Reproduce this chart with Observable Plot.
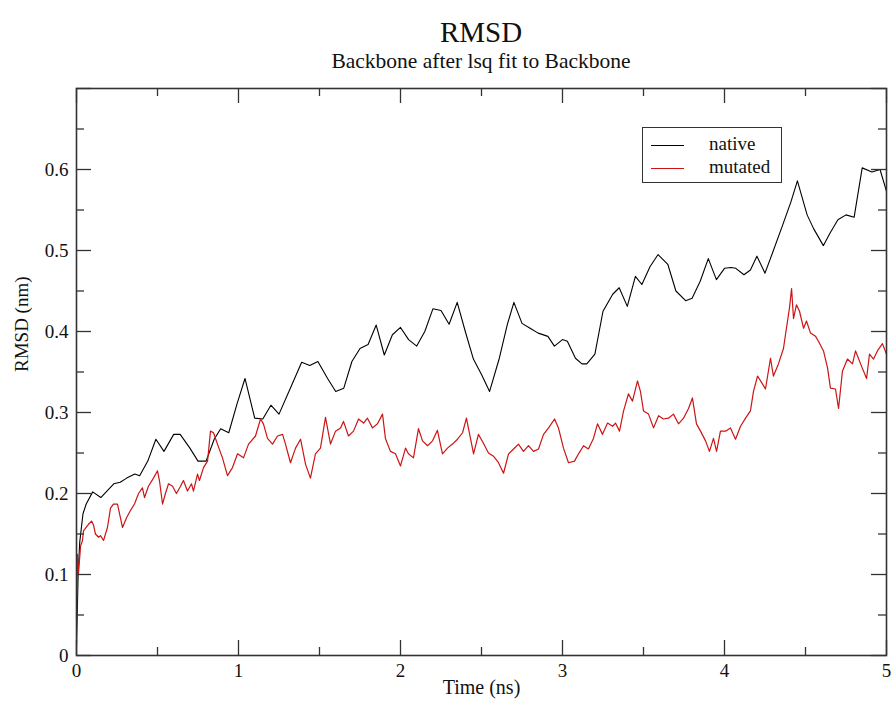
<!DOCTYPE html>
<html><head><meta charset="utf-8">
<script src="https://cdn.jsdelivr.net/npm/d3@7"></script>
<script src="https://cdn.jsdelivr.net/npm/@observablehq/plot@0.6"></script>
<style>
body{margin:0;background:#fff;font-family:"Liberation Serif",serif;color:#111;}
#wrap{position:relative;width:896px;height:709px;overflow:hidden;}
#head{position:relative;height:70px;}
#title{position:absolute;left:0;width:962px;top:21px;text-align:center;font-size:29px;line-height:22px;height:22px;}
#subtitle{position:absolute;left:0;width:962px;top:53px;text-align:center;font-size:21.5px;line-height:17px;height:17px;}
#legend{position:absolute;left:642px;top:127px;width:138px;height:54px;border:1.5px solid #333;background:#fff;font-size:19px;}
.li{position:absolute;left:8px;height:20px;}
.sw{position:absolute;left:0;top:10px;width:33px;height:0;border-top:1px solid;}
.lt{position:absolute;left:58px;top:-2px;line-height:22px;}
</style></head>
<body>
<div id="wrap">
  <div id="head"><div id="title">RMSD</div><div id="subtitle">Backbone after lsq fit to Backbone</div></div>
  <div id="chart"></div>
  <div id="legend">
    <div class="li" style="top:7px"><div class="sw" style="border-color:#000"></div><div class="lt">native</div></div>
    <div class="li" style="top:30px"><div class="sw" style="border-color:#cc1414"></div><div class="lt">mutated</div></div>
  </div>
</div>
<script>
// ---- data ----
const nativeTime = [0,0.01,0.02,0.04,0.06,0.10,0.15,0.23,0.27,0.31,0.36,0.39,0.44,0.49,0.54,0.60,0.64,0.70,0.75,0.80,0.85,0.89,0.94,0.99,1.04,1.10,1.15,1.20,1.25,1.32,1.39,1.44,1.49,1.55,1.60,1.65,1.70,1.75,1.80,1.85,1.90,1.95,2.00,2.05,2.10,2.15,2.20,2.25,2.30,2.35,2.40,2.45,2.50,2.55,2.61,2.66,2.70,2.75,2.80,2.85,2.91,2.95,3.00,3.03,3.08,3.12,3.15,3.20,3.25,3.31,3.35,3.40,3.45,3.49,3.54,3.59,3.65,3.70,3.76,3.80,3.85,3.90,3.95,4.00,4.04,4.07,4.12,4.16,4.20,4.25,4.30,4.36,4.41,4.45,4.51,4.55,4.61,4.65,4.70,4.75,4.80,4.85,4.91,4.96,5.00];
const nativeRmsd = [0.01,0.10,0.14,0.175,0.187,0.202,0.195,0.212,0.214,0.219,0.224,0.222,0.24,0.267,0.252,0.273,0.273,0.256,0.24,0.24,0.267,0.28,0.275,0.31,0.342,0.293,0.292,0.309,0.298,0.33,0.362,0.358,0.363,0.342,0.326,0.33,0.363,0.379,0.384,0.408,0.371,0.396,0.405,0.39,0.382,0.40,0.428,0.426,0.409,0.436,0.40,0.366,0.347,0.326,0.367,0.409,0.436,0.41,0.404,0.398,0.394,0.382,0.39,0.388,0.367,0.36,0.36,0.372,0.425,0.446,0.454,0.431,0.468,0.458,0.48,0.495,0.483,0.45,0.438,0.441,0.462,0.49,0.464,0.478,0.479,0.478,0.47,0.476,0.493,0.472,0.499,0.532,0.56,0.586,0.544,0.527,0.506,0.521,0.538,0.544,0.541,0.602,0.597,0.60,0.573];

const mutatedTime = [0,0.006,0.012,0.025,0.037,0.043,0.074,0.093,0.105,0.117,0.136,0.148,0.167,0.191,0.21,0.228,0.253,0.284,0.309,0.333,0.358,0.383,0.407,0.42,0.444,0.475,0.5,0.512,0.531,0.549,0.568,0.593,0.617,0.642,0.66,0.685,0.71,0.722,0.747,0.759,0.784,0.809,0.827,0.846,0.87,0.901,0.932,0.963,0.994,1.031,1.062,1.105,1.136,1.154,1.179,1.21,1.241,1.272,1.29,1.321,1.352,1.383,1.414,1.444,1.475,1.506,1.537,1.568,1.599,1.63,1.648,1.679,1.71,1.741,1.772,1.796,1.827,1.858,1.889,1.907,1.938,1.969,2.0,2.031,2.049,2.08,2.111,2.136,2.167,2.198,2.228,2.259,2.29,2.321,2.352,2.383,2.407,2.432,2.451,2.481,2.512,2.543,2.574,2.605,2.636,2.667,2.698,2.728,2.759,2.79,2.821,2.852,2.883,2.914,2.951,2.975,3.006,3.037,3.074,3.099,3.13,3.16,3.191,3.216,3.247,3.278,3.309,3.327,3.352,3.377,3.407,3.432,3.463,3.481,3.5,3.531,3.562,3.593,3.623,3.654,3.685,3.716,3.747,3.778,3.802,3.827,3.852,3.883,3.907,3.932,3.951,3.975,4.006,4.037,4.068,4.099,4.13,4.16,4.179,4.204,4.235,4.253,4.284,4.302,4.333,4.364,4.389,4.401,4.414,4.426,4.444,4.463,4.488,4.506,4.531,4.562,4.58,4.611,4.636,4.654,4.685,4.704,4.728,4.759,4.79,4.809,4.84,4.877,4.895,4.92,4.944,4.975,5.0];
const mutatedRmsd = [0.047,0.125,0.10,0.135,0.142,0.154,0.162,0.166,0.161,0.150,0.146,0.148,0.142,0.158,0.182,0.187,0.187,0.158,0.170,0.179,0.187,0.200,0.207,0.195,0.209,0.219,0.228,0.216,0.187,0.200,0.212,0.209,0.200,0.209,0.216,0.203,0.212,0.203,0.224,0.216,0.232,0.240,0.277,0.275,0.261,0.244,0.222,0.232,0.249,0.244,0.261,0.271,0.292,0.286,0.268,0.261,0.271,0.273,0.261,0.238,0.256,0.267,0.236,0.219,0.249,0.256,0.294,0.261,0.277,0.281,0.289,0.271,0.277,0.292,0.287,0.293,0.281,0.286,0.298,0.268,0.252,0.249,0.234,0.256,0.249,0.244,0.280,0.265,0.259,0.265,0.278,0.249,0.256,0.261,0.267,0.275,0.293,0.268,0.249,0.273,0.262,0.250,0.246,0.238,0.225,0.249,0.255,0.261,0.252,0.259,0.252,0.255,0.273,0.281,0.292,0.281,0.256,0.238,0.240,0.249,0.259,0.255,0.268,0.286,0.273,0.287,0.283,0.287,0.277,0.302,0.323,0.314,0.339,0.326,0.302,0.298,0.281,0.296,0.292,0.293,0.298,0.286,0.293,0.305,0.318,0.286,0.277,0.265,0.252,0.268,0.252,0.277,0.277,0.281,0.267,0.283,0.293,0.302,0.326,0.345,0.335,0.329,0.367,0.345,0.360,0.379,0.413,0.429,0.453,0.416,0.433,0.425,0.404,0.413,0.398,0.394,0.388,0.376,0.355,0.330,0.329,0.305,0.351,0.366,0.360,0.376,0.360,0.342,0.372,0.366,0.376,0.385,0.372];

const xMajor = [0,1,2,3,4,5];
const xMinor = [0.5,1.5,2.5,3.5,4.5];
const yMajor = [0,0.1,0.2,0.3,0.4,0.5,0.6,0.7];
const yMinor = [0.05,0.15,0.25,0.35,0.45,0.55,0.65];
const yLabelTicks = [0,0.1,0.2,0.3,0.4,0.5,0.6];
const yTickLabels = ["0","0.1","0.2","0.3","0.4","0.5","0.6"];

const native = nativeTime.map((t,i)=>({t, v: nativeRmsd[i]}));
const mutated = mutatedTime.map((t,i)=>({t, v: mutatedRmsd[i]}));

const width = 896, height = 639, mt = 18, mb = 54, ml = 76, mr = 10;
const H = height - mt - mb, W = width - ml - mr;
const big = 15, small = 8;
const tickStyle = {stroke: "#333", strokeWidth: 1.3};

const chart = Plot.plot({
  width, height, marginTop: mt, marginBottom: mb, marginLeft: ml, marginRight: mr,
  style: {fontFamily: "Liberation Serif", fontSize: "19px", color: "#111", background: "#fff"},
  x: {domain: [0,5], ticks: xMajor, tickSize: 0, tickPadding: 8, label: null, tickFormat: d => String(d)},
  y: {domain: [0,0.7], ticks: yLabelTicks, tickSize: 0, tickPadding: 8, label: null,
      tickFormat: d => yTickLabels[yLabelTicks.indexOf(d)]},
  marks: [
    Plot.line(native, {x: "t", y: "v", stroke: "#000", strokeWidth: 1.1}),
    Plot.line(mutated, {x: "t", y: "v", stroke: "#cc1414", strokeWidth: 1.2}),
    Plot.tickX(xMajor, {x: d => d, insetTop: H - big, ...tickStyle}),
    Plot.tickX(xMajor, {x: d => d, insetBottom: H - big, ...tickStyle}),
    Plot.tickX(xMinor, {x: d => d, insetTop: H - small, ...tickStyle}),
    Plot.tickX(xMinor, {x: d => d, insetBottom: H - small, ...tickStyle}),
    Plot.tickY(yMajor, {y: d => d, insetRight: W - big, ...tickStyle}),
    Plot.tickY(yMajor, {y: d => d, insetLeft: W - big, ...tickStyle}),
    Plot.tickY(yMinor, {y: d => d, insetRight: W - small, ...tickStyle}),
    Plot.tickY(yMinor, {y: d => d, insetLeft: W - small, ...tickStyle}),
    Plot.frame({stroke: "#333", strokeWidth: 1.6}),
    Plot.text(["Time (ns)"], {text: d => d, frameAnchor: "bottom", dy: 38, fontSize: 20}),
    Plot.text(["RMSD (nm)"], {text: d => d, frameAnchor: "left", dx: -55, rotate: -90, fontSize: 19})
  ]
});
document.getElementById("chart").appendChild(chart);
</script>
</body></html>
